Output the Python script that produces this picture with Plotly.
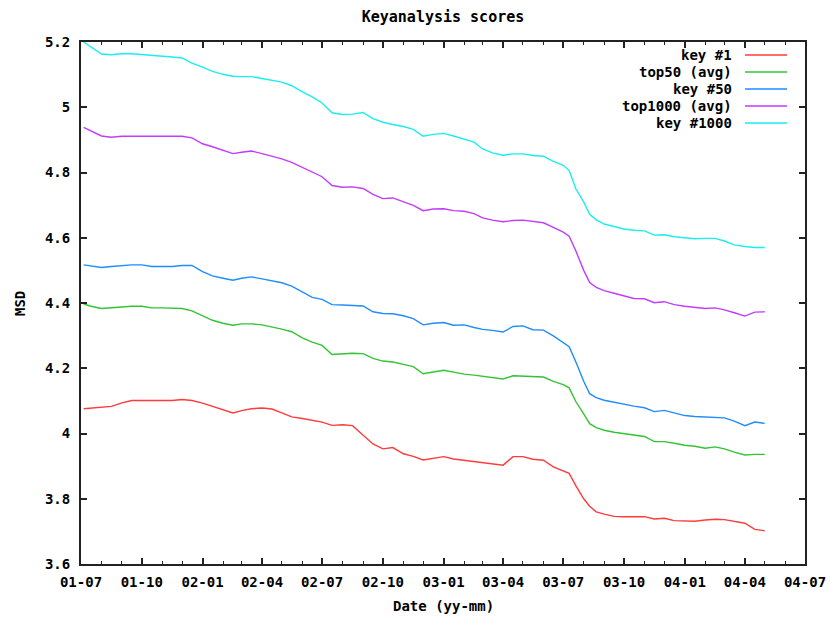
import plotly.graph_objects as go

dates = [
    "2001-07-05", "2001-07-16", "2001-08-01", "2001-08-16", "2001-09-01", "2001-09-16",
    "2001-10-01", "2001-10-16", "2001-11-01", "2001-11-16", "2001-12-01", "2001-12-16",
    "2002-01-01", "2002-01-16", "2002-02-01", "2002-02-16", "2002-03-01", "2002-03-16",
    "2002-04-01", "2002-04-16", "2002-05-01", "2002-05-16", "2002-06-01", "2002-06-16",
    "2002-07-01", "2002-07-16", "2002-08-01", "2002-08-16", "2002-09-01", "2002-09-16",
    "2002-10-01", "2002-10-16", "2002-11-01", "2002-11-16", "2002-12-01", "2002-12-16",
    "2003-01-01", "2003-01-16", "2003-02-01", "2003-02-16", "2003-03-01", "2003-03-16",
    "2003-04-01", "2003-04-16", "2003-05-01", "2003-05-16", "2003-06-01", "2003-06-16",
    "2003-07-01", "2003-07-10", "2003-07-20", "2003-08-01", "2003-08-10", "2003-08-20",
    "2003-09-01", "2003-09-16", "2003-10-01", "2003-10-16", "2003-11-01", "2003-11-16",
    "2003-12-01", "2003-12-16", "2004-01-01", "2004-01-16", "2004-02-01", "2004-02-16",
    "2004-03-01", "2004-03-16", "2004-04-01", "2004-04-16", "2004-05-01",
]

key_1 = [
    4.076, 4.078, 4.080, 4.083, 4.094, 4.101, 4.101, 4.101, 4.101, 4.101, 4.104, 4.101,
    4.093, 4.083, 4.071, 4.063, 4.070, 4.076, 4.078, 4.075, 4.063, 4.051, 4.046, 4.040,
    4.035, 4.025, 4.027, 4.024, 3.995, 3.968, 3.953, 3.957, 3.938, 3.930, 3.919, 3.924,
    3.929, 3.922, 3.918, 3.914, 3.911, 3.909, 3.903, 3.929, 3.929, 3.921, 3.918, 3.898,
    3.887, 3.878, 3.840, 3.800, 3.777, 3.760, 3.753, 3.746, 3.745, 3.745, 3.745, 3.738,
    3.740, 3.733, 3.732, 3.731, 3.735, 3.737, 3.736, 3.730, 3.725, 3.706, 3.702,
]

top50_avg = [
    4.397, 4.390, 4.383, 4.385, 4.389, 4.390, 4.390, 4.385, 4.385, 4.385, 4.383, 4.376,
    4.360, 4.347, 4.338, 4.332, 4.336, 4.336, 4.333, 4.327, 4.320, 4.312, 4.293, 4.280,
    4.270, 4.242, 4.244, 4.246, 4.245, 4.230, 4.222, 4.219, 4.212, 4.205, 4.183, 4.189,
    4.194, 4.188, 4.182, 4.179, 4.175, 4.171, 4.167, 4.177, 4.176, 4.174, 4.173, 4.160,
    4.150, 4.140, 4.098, 4.060, 4.030, 4.018, 4.010, 4.004, 3.999, 3.996, 3.991, 3.975,
    3.975, 3.970, 3.964, 3.961, 3.955, 3.959, 3.953, 3.943, 3.934, 3.936, 3.936,
]

key_50 = [
    4.517, 4.514, 4.509, 4.512, 4.515, 4.517, 4.517, 4.512, 4.512, 4.512, 4.515, 4.515,
    4.496, 4.483, 4.476, 4.470, 4.476, 4.480, 4.474, 4.468, 4.462, 4.452, 4.433, 4.417,
    4.411, 4.395, 4.394, 4.392, 4.391, 4.373, 4.368, 4.367, 4.361, 4.352, 4.333, 4.338,
    4.340, 4.332, 4.333, 4.325, 4.319, 4.316, 4.311, 4.328, 4.330, 4.318, 4.317, 4.299,
    4.280, 4.266, 4.220, 4.160, 4.122, 4.110, 4.102, 4.096, 4.089, 4.084, 4.079, 4.067,
    4.071, 4.064, 4.055, 4.052, 4.051, 4.050, 4.048, 4.038, 4.024, 4.035, 4.031,
]

top1000_avg = [
    4.938, 4.928, 4.912, 4.908, 4.911, 4.911, 4.911, 4.911, 4.911, 4.911, 4.911, 4.906,
    4.888, 4.879, 4.868, 4.858, 4.862, 4.866, 4.858, 4.851, 4.842, 4.831, 4.815, 4.801,
    4.787, 4.760, 4.755, 4.756, 4.751, 4.733, 4.720, 4.722, 4.711, 4.699, 4.683, 4.688,
    4.689, 4.683, 4.681, 4.674, 4.661, 4.654, 4.649, 4.653, 4.654, 4.650, 4.646, 4.632,
    4.617, 4.605, 4.560, 4.500, 4.463, 4.448, 4.438, 4.430, 4.422, 4.414, 4.413, 4.401,
    4.404, 4.395, 4.390, 4.387, 4.383, 4.385, 4.379, 4.370, 4.360, 4.372, 4.373,
]

key_1000 = [
    5.200, 5.186, 5.163, 5.161, 5.164, 5.164, 5.162, 5.160, 5.158, 5.154, 5.151, 5.135,
    5.123, 5.110, 5.101, 5.095, 5.094, 5.094, 5.088, 5.083, 5.077, 5.066, 5.047, 5.032,
    5.013, 4.983, 4.978, 4.979, 4.984, 4.965, 4.954, 4.947, 4.941, 4.932, 4.911, 4.917,
    4.920, 4.912, 4.903, 4.893, 4.872, 4.860, 4.853, 4.857, 4.857, 4.852, 4.850, 4.834,
    4.822, 4.806, 4.750, 4.710, 4.672, 4.655, 4.642, 4.634, 4.627, 4.623, 4.621, 4.608,
    4.609, 4.603, 4.599, 4.597, 4.598, 4.598, 4.590, 4.578, 4.573, 4.570, 4.570,
]

series_names = ["key #1", "top50 (avg)", "key #50", "top1000 (avg)", "key #1000"]
series_values = [key_1, top50_avg, key_50, top1000_avg, key_1000]
series_colors = ["#ff3b3b", "#33c433", "#1f8cff", "#c23bff", "#1aeeee"]

FONT = "DejaVu Sans Mono"
FS = 14

# plot-area geometry in pixels (830 x 618 canvas)
L, R, T, B = 81, 805, 42, 564
W, H = R - L, B - T


def px_x(p):
    return (p - L) / W


def px_y(p):
    return (B - p) / H


fig = go.Figure()
for name, vals, col in zip(series_names, series_values, series_colors):
    fig.add_trace(go.Scatter(
        x=dates, y=vals, mode="lines", name=name,
        line=dict(color=col, width=1.4), showlegend=False,
    ))

# gnuplot-style key: right-aligned text with line sample on its right
for i, (name, col) in enumerate(zip(series_names, series_colors)):
    yp = px_y(55 + 17 * i)
    fig.add_annotation(
        x=px_x(734), y=yp, xref="paper", yref="paper", text="<b>" + name + "</b>",
        showarrow=False, xanchor="right", yanchor="middle",
        font=dict(family=FONT, size=FS, color="#000"),
    )
    fig.add_shape(type="line", xref="paper", yref="paper",
                  x0=px_x(745), x1=px_x(787), y0=yp, y1=yp,
                  line=dict(color=col, width=1.6))

# axis titles
fig.add_annotation(x=px_x(443), y=px_y(606), xref="paper", yref="paper",
                   text="<b>Date (yy-mm)</b>", showarrow=False,
                   xanchor="center", yanchor="middle",
                   font=dict(family=FONT, size=FS, color="#000"))
fig.add_annotation(x=px_x(20), y=px_y(303), xref="paper", yref="paper",
                   text="<b>MSD</b>", showarrow=False, textangle=-90,
                   xanchor="center", yanchor="middle",
                   font=dict(family=FONT, size=FS, color="#000"))

fig.update_layout(
    template="none",
    width=830, height=618,
    margin=dict(l=L, r=830 - R, t=T, b=618 - B, autoexpand=False),
    paper_bgcolor="white", plot_bgcolor="white",
    showlegend=False,
    title=dict(text="<b>Keyanalysis scores</b>", x=0.5, xref="paper", xanchor="center",
               y=1 - 17 / 618, yref="container", yanchor="middle",
               font=dict(family=FONT, size=15, color="#000")),
    font=dict(family=FONT, size=FS, color="#000"),
    xaxis=dict(
        type="date", range=["2001-07-01", "2004-07-01"], automargin=False,
        tick0="2001-07-01", dtick="M3", tickformat="<b>%y-%m</b>",
        ticks="inside", ticklen=6, tickwidth=1.5, tickcolor="#222",
        showline=True, linecolor="#222", linewidth=2, mirror="ticks",
        showgrid=False, zeroline=False,
        minor=dict(dtick="M1", tick0="2001-07-01", ticks="inside", ticklen=3,
                   tickwidth=1.2, tickcolor="#222", showgrid=False),
        tickfont=dict(family=FONT, size=FS, color="#000"),
        ticklabelstandoff=4,
    ),
    yaxis=dict(
        range=[3.6, 5.2], dtick=0.2, tick0=3.6, automargin=False,
        ticks="inside", ticklen=6, tickwidth=1.5, tickcolor="#222",
        showline=True, linecolor="#222", linewidth=2, mirror="ticks",
        showgrid=False, zeroline=False,
        tickfont=dict(family=FONT, size=FS, color="#000"),
        tickprefix="<b>", ticksuffix="</b>",
        ticklabelstandoff=6,
    ),
)

fig.write_html("out.html")
